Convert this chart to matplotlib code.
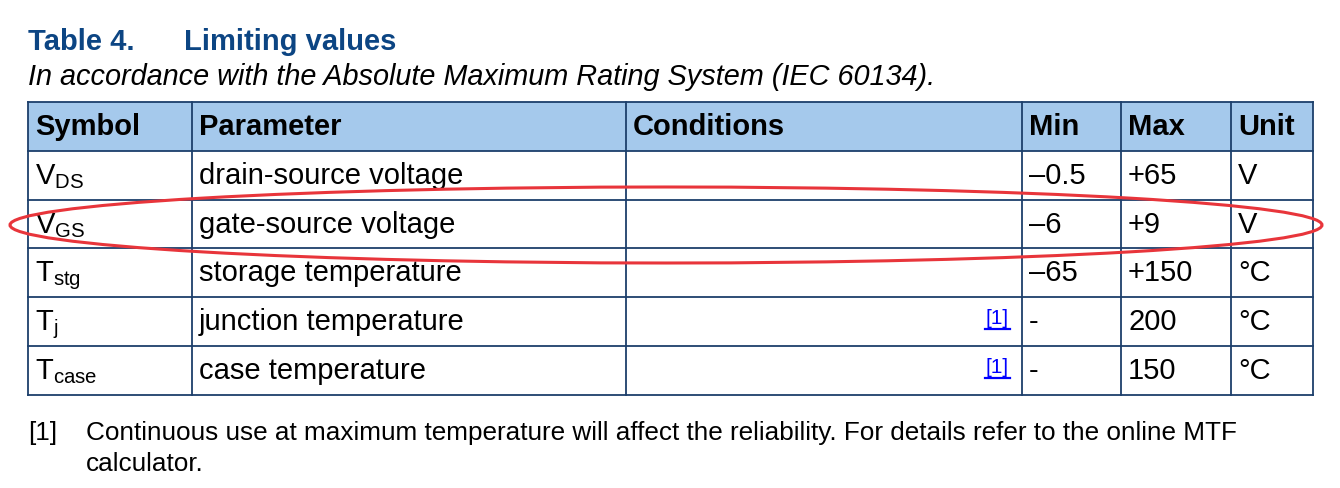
import matplotlib.pyplot as plt
from matplotlib.patches import Rectangle, Ellipse

plt.rcParams['font.family'] = ['Liberation Sans', 'DejaVu Sans']
plt.rcParams['mathtext.fontset'] = 'custom'
plt.rcParams['mathtext.rm'] = 'Liberation Sans'
plt.rcParams['mathtext.it'] = 'Liberation Sans:italic'
plt.rcParams['mathtext.bf'] = 'Liberation Sans:bold'

# --- 表格内容 ---
title_no = 'Table 4.'
title_txt = 'Limiting values'
subtitle = 'In accordance with the Absolute Maximum Rating System (IEC 60134).'
headers = ['Symbol', 'Parameter', 'Conditions', 'Min', 'Max', 'Unit']
symbols = [r'$\mathregular{V_{DS}}$', r'$\mathregular{V_{GS}}$', r'$\mathregular{T_{stg}}$',
           r'$\mathregular{T_{j}}$', r'$\mathregular{T_{case}}$']
params = ['drain-source voltage', 'gate-source voltage', 'storage temperature',
          'junction temperature', 'case temperature']
conditions = ['', '', '', '', '']
notes = ['', '', '', '[1]', '[1]']
mins = ['\u20130.5', '\u20136', '\u201365', '-', '-']
maxs = ['+65', '+9', '+150', '200', '150']
units = ['V', 'V', '\u00b0C', '\u00b0C', '\u00b0C']
highlight_row = 1
footnote_lines = ['Continuous use at maximum temperature will affect the reliability. For details refer to the online MTF',
                  'calculator.']

# --- 版式 (像素坐标) ---
W, H = 1340, 488
col_x = [28, 192, 626, 1022, 1121, 1231, 1313]
row_y = [102, 151, 200, 248, 297, 346, 395]
pad = 7
base_off = 33
border = '#1c3f6b'
head_bg = '#a5c9ec'
title_col = '#0c4583'
fs = 21

fig = plt.figure(figsize=(W / 100, H / 100), dpi=100)
ax = fig.add_axes([0, 0, 1, 1])
ax.set_xlim(0, W)
ax.set_ylim(H, 0)
ax.axis('off')

ax.text(28, 50, title_no, fontsize=21, fontweight='bold', color=title_col, va='baseline')
ax.text(184, 50, title_txt, fontsize=21, fontweight='bold', color=title_col, va='baseline')
ax.text(28, 85, subtitle, fontsize=20.8, style='italic', color='black', va='baseline')

# 表头背景
ax.add_patch(Rectangle((col_x[0], row_y[0]), col_x[-1] - col_x[0], row_y[1] - row_y[0],
                       facecolor=head_bg, edgecolor='none', zorder=1))

# 网格线
for y in row_y:
    ax.plot([col_x[0], col_x[-1]], [y, y], color=border, lw=1.3, zorder=2)
for x in col_x:
    ax.plot([x, x], [row_y[0], row_y[-1]], color=border, lw=1.3, zorder=2)

for j, h in enumerate(headers):
    ax.text(col_x[j] + pad, row_y[0] + base_off, h, fontsize=fs, fontweight='bold',
            va='baseline', zorder=3)

columns = [symbols, params, conditions, mins, maxs, units]
for i in range(len(params)):
    yb = row_y[i + 1] + base_off
    for j, col in enumerate(columns):
        ax.text(col_x[j] + pad, yb, col[i], fontsize=fs, va='baseline', zorder=3)
    if notes[i]:
        ax.text(col_x[3] - 13, yb - 6, notes[i], fontsize=15, color='#0000ff',
                ha='right', va='baseline', zorder=3)
        ax.plot([col_x[3] - 37, col_x[3] - 12], [yb - 1.5, yb - 1.5], color='#0000ff', lw=1.6, zorder=3)

# 红色椭圆标注
cy = (row_y[highlight_row + 1] + row_y[highlight_row + 2]) / 2
ax.add_patch(Ellipse((666, cy + 1), 1312, 76, facecolor='none', edgecolor='#e8353b', lw=2.2, zorder=4))

ax.text(28, 440, '[1]', fontsize=18.8, va='baseline')
for k, line in enumerate(footnote_lines):
    ax.text(86, 440 + k * 31, line, fontsize=18.8, va='baseline')

plt.savefig('out.png', dpi=100, facecolor='white')
